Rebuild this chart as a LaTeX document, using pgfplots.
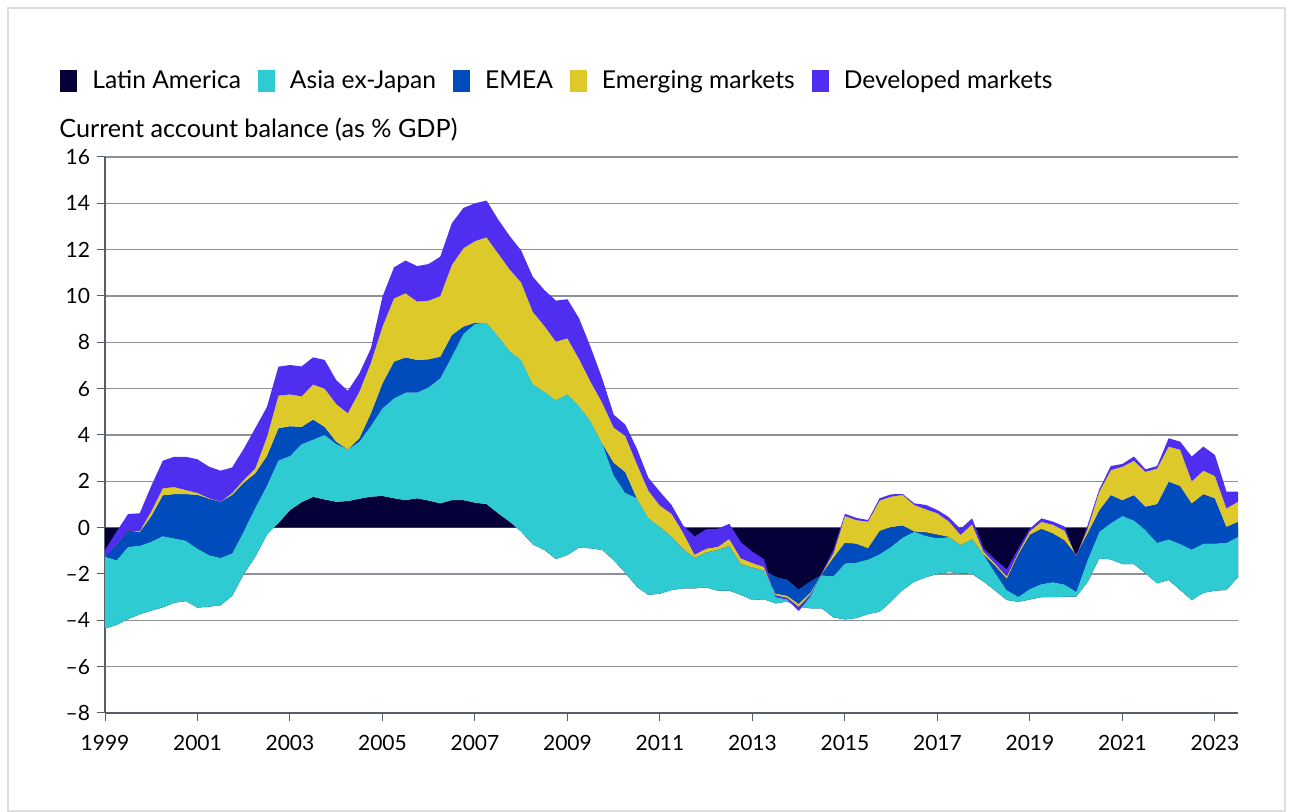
\documentclass[border=0pt]{standalone}
\usepackage{fontspec}
\setmainfont{Lato}
\usepackage{pgfplots}
\usepackage{pgfplotstable}
\pgfplotsset{compat=1.18}
\usepgfplotslibrary{fillbetween}
\pgfplotsset{area legend/.style={legend image code/.code={\fill[##1] (0pt,-5.5pt) rectangle (8.5pt,5.5pt); \path (16pt,0pt);}}}

\definecolor{cLat}{RGB}{5,0,56}
\definecolor{cAsia}{RGB}{46,204,210}
\definecolor{cEmea}{RGB}{0,76,188}
\definecolor{cEm}{RGB}{222,201,43}
\definecolor{cDm}{RGB}{79,46,239}
\definecolor{gridc}{RGB}{140,146,152}
\definecolor{axisc}{RGB}{85,95,105}
\definecolor{framec}{RGB}{222,222,222}

% cumulative curves: c1 = Latin America, c2 = +Asia ex-Japan, c3 = +EMEA, c4 = +Emerging markets, c5 = +Developed markets
\pgfplotstableread{
t c1 c2 c3 c4 c5
1999.00 -4.35 -1.25 -1.25 -1.25 -0.96
1999.25 -4.20 -1.40 -0.72 -0.72 -0.17
1999.50 -3.94 -0.82 -0.12 -0.12 0.59
1999.75 -3.74 -0.78 -0.20 -0.15 0.62
2000.00 -3.58 -0.60 0.50 0.70 1.80
2000.25 -3.44 -0.36 1.40 1.70 2.89
2000.50 -3.24 -0.46 1.45 1.75 3.06
2000.75 -3.17 -0.56 1.45 1.62 3.06
2001.00 -3.45 -0.90 1.42 1.50 2.95
2001.25 -3.41 -1.18 1.25 1.27 2.63
2001.50 -3.35 -1.30 1.12 1.12 2.46
2001.75 -2.94 -1.10 1.42 1.50 2.60
2002.00 -2.00 -0.15 1.94 2.06 3.40
2002.25 -1.25 0.85 2.35 2.56 4.30
2002.50 -0.30 1.80 3.09 3.90 5.20
2002.75 0.20 2.90 4.29 5.70 6.95
2003.00 0.76 3.09 4.38 5.75 7.02
2003.25 1.10 3.60 4.35 5.67 6.96
2003.50 1.33 3.80 4.67 6.18 7.35
2003.75 1.22 4.00 4.35 6.00 7.24
2004.00 1.12 3.61 3.71 5.34 6.37
2004.25 1.15 3.38 3.38 4.94 5.91
2004.50 1.25 3.71 3.86 5.87 6.66
2004.75 1.34 4.39 4.94 7.12 7.74
2005.00 1.37 5.15 6.23 8.68 9.97
2005.25 1.27 5.58 7.17 9.90 11.24
2005.50 1.19 5.83 7.35 10.12 11.53
2005.75 1.27 5.83 7.24 9.76 11.29
2006.00 1.17 6.06 7.27 9.80 11.38
2006.25 1.05 6.45 7.38 10.00 11.70
2006.50 1.19 7.38 8.32 11.34 13.14
2006.75 1.19 8.36 8.68 12.06 13.80
2007.00 1.08 8.79 8.85 12.37 14.00
2007.25 1.02 8.85 8.85 12.53 14.12
2007.50 0.62 8.27 8.27 11.84 13.31
2007.75 0.26 7.63 7.63 11.15 12.59
2008.00 -0.17 7.24 7.24 10.58 11.96
2008.25 -0.72 6.20 6.20 9.32 10.83
2008.50 -0.96 5.87 5.87 8.71 10.26
2008.75 -1.35 5.51 5.51 8.03 9.80
2009.00 -1.18 5.77 5.77 8.17 9.86
2009.25 -0.86 5.25 5.25 7.28 9.04
2009.50 -0.89 4.60 4.60 6.30 7.80
2009.75 -0.96 3.64 3.64 5.40 6.45
2010.00 -1.40 2.25 2.80 4.32 4.88
2010.25 -1.95 1.50 2.40 3.96 4.45
2010.50 -2.55 1.27 1.27 2.75 3.42
2010.75 -2.90 0.42 0.42 1.60 2.15
2011.00 -2.85 0.04 0.04 0.95 1.55
2011.25 -2.69 -0.39 -0.39 0.60 0.98
2011.50 -2.62 -0.92 -0.92 -0.20 0.10
2011.75 -2.62 -1.30 -1.30 -1.16 -0.38
2012.00 -2.58 -1.07 -1.07 -0.90 -0.07
2012.25 -2.72 -0.96 -0.96 -0.82 -0.05
2012.50 -2.72 -0.78 -0.78 -0.48 0.17
2012.75 -2.90 -1.57 -1.57 -1.32 -0.63
2013.00 -3.12 -1.72 -1.72 -1.52 -1.04
2013.25 -3.09 -1.85 -1.85 -1.69 -1.36
2013.50 -3.27 -2.14 -2.85 -2.92 -3.00
2013.75 -3.19 -2.26 -2.95 -3.03 -3.10
2014.00 -3.41 -2.69 -3.30 -3.42 -3.60
2014.25 -3.48 -2.33 -2.82 -2.90 -2.98
2014.50 -3.48 -2.05 -2.00 -1.97 -1.95
2014.75 -3.87 -2.09 -1.30 -1.10 -0.96
2015.00 -3.96 -1.54 -0.65 0.50 0.60
2015.25 -3.90 -1.50 -0.70 0.32 0.42
2015.50 -3.73 -1.37 -0.89 0.26 0.33
2015.75 -3.63 -1.14 -0.14 1.17 1.27
2016.00 -3.19 -0.82 0.03 1.34 1.44
2016.25 -2.69 -0.42 0.10 1.41 1.45
2016.50 -2.33 -0.17 -0.17 0.98 1.05
2016.75 -2.14 -0.35 -0.20 0.79 0.98
2017.00 -2.00 -0.45 -0.30 0.62 0.76
2017.25 -1.91 -0.40 -0.40 0.26 0.45
2017.50 -1.97 -0.75 -0.75 -0.30 -0.05
2017.75 -2.00 -0.50 -0.50 0.15 0.40
2018.00 -2.33 -1.15 -1.15 -1.03 -0.89
2018.25 -2.72 -1.95 -1.65 -1.55 -1.38
2018.50 -3.12 -2.69 -2.20 -2.10 -1.80
2018.75 -3.20 -2.98 -1.15 -1.05 -0.90
2019.00 -3.10 -2.64 -0.30 -0.14 -0.04
2019.25 -3.00 -2.43 -0.05 0.25 0.40
2019.50 -3.00 -2.35 -0.25 0.12 0.26
2019.75 -2.98 -2.45 -0.55 -0.12 0.05
2020.00 -2.98 -2.76 -1.18 -1.22 -1.30
2020.25 -2.33 -1.37 -0.24 -0.03 0.12
2020.50 -1.32 -0.17 0.76 1.55 1.66
2020.75 -1.37 0.19 1.41 2.48 2.66
2021.00 -1.57 0.50 1.19 2.63 2.75
2021.25 -1.57 0.30 1.41 2.89 3.07
2021.50 -1.97 -0.10 0.91 2.41 2.52
2021.75 -2.40 -0.65 1.02 2.55 2.66
2022.00 -2.26 -0.50 1.99 3.50 3.86
2022.25 -2.69 -0.70 1.80 3.36 3.71
2022.50 -3.12 -0.94 1.05 2.00 3.07
2022.75 -2.81 -0.68 1.45 2.46 3.50
2023.00 -2.72 -0.68 1.27 2.23 3.14
2023.25 -2.69 -0.65 0.04 0.83 1.56
2023.50 -2.12 -0.39 0.26 1.12 1.56
}\cadata

\begin{document}
\begin{tikzpicture}
\draw[draw=framec, line width=0.6pt] (4pt,0.5pt) rectangle (642.5pt,402pt);
\node[anchor=west, inner sep=0pt, font=\fontsize{12.6}{14}\selectfont] at (29.5pt,341pt) {Current account balance (as \% GDP)};
\begin{axis}[
  at={(52.5pt,49.5pt)}, anchor=south west,
  width=566.5pt, height=278pt, scale only axis,
  xmin=1999, xmax=2023.5, ymin=-8, ymax=16,
  axis lines*=left,
  axis line style={draw=axisc, line width=0.75pt},
  xtick={1999,2001,...,2023},
  xticklabels={1999,2001,2003,2005,2007,2009,2011,2013,2015,2017,2019,2021,2023},
  ytick={-8,-6,...,16},
  yticklabels={–8,–6,–4,–2,0,2,4,6,8,10,12,14,16},
  tick align=outside, major tick length=4pt,
  tick style={draw=axisc, line width=0.5pt},
  ymajorgrids, major grid style={draw=gridc, line width=0.7pt},
  tick label style={font=\fontsize{10.5}{12}\selectfont, text=black},
  xticklabel style={yshift=-3.5pt},
  legend columns=-1,
  legend style={at={(-0.0397,1.1367)}, anchor=west, draw=none, fill=none, inner sep=0pt,
    font=\fontsize{12.3}{14}\selectfont,
    nodes={inner xsep=0pt, inner ysep=1pt},
    /tikz/every even column/.append style={column sep=8.5pt}},
]
\addplot[draw=none, name path=c0, forget plot] table[x=t, y expr=0] {\cadata};
\addplot[draw=none, name path=c1, forget plot] table[x=t, y=c1] {\cadata};
\addplot[draw=none, name path=c2, forget plot] table[x=t, y=c2] {\cadata};
\addplot[draw=none, name path=c3, forget plot] table[x=t, y=c3] {\cadata};
\addplot[draw=none, name path=c4, forget plot] table[x=t, y=c4] {\cadata};
\addplot[draw=none, name path=c5, forget plot] table[x=t, y=c5] {\cadata};
\addplot[fill=cLat, draw=none] fill between[of=c0 and c1];
\addlegendentry{Latin America}
\addplot[fill=cAsia, draw=none] fill between[of=c1 and c2];
\addlegendentry{Asia ex-Japan}
\addplot[fill=cEmea, draw=none] fill between[of=c2 and c3];
\addlegendentry{EMEA}
\addplot[fill=cEm, draw=none] fill between[of=c3 and c4];
\addlegendentry{Emerging markets}
\addplot[fill=cDm, draw=none] fill between[of=c4 and c5];
\addlegendentry{Developed markets}
\end{axis}
\pgfresetboundingbox
\useasboundingbox (0pt,0pt) rectangle (646.5pt,406pt);
\end{tikzpicture}
\end{document}
